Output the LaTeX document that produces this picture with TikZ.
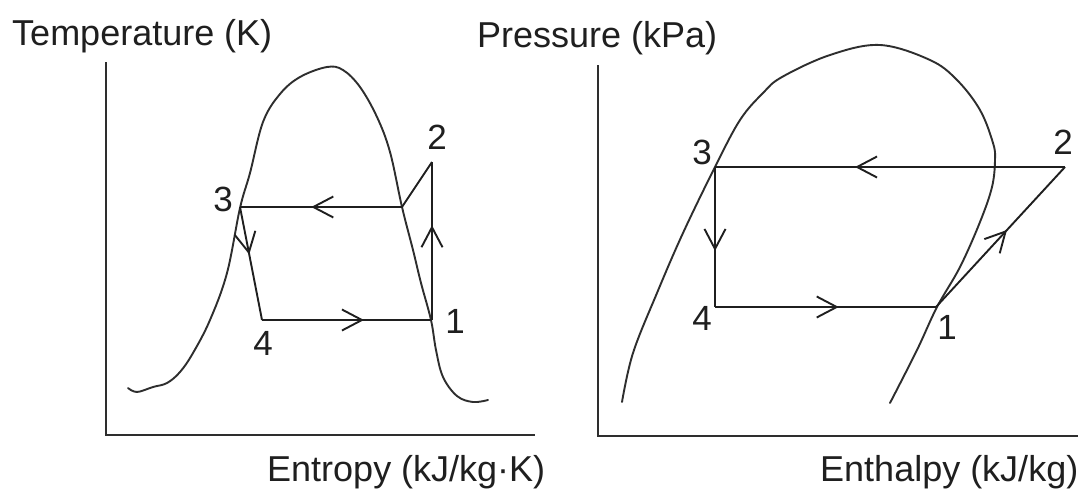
\documentclass[tikz,border=0pt]{standalone}
\usepackage{fontspec}
\setmainfont{Liberation Sans}
\usetikzlibrary{arrows.meta,decorations.markings}
\tikzset{
  cyc/.style={line width=2.4pt, draw=black!88},
  cycdiag/.style={cyc, line width=1.9pt},
  dome/.style={line width=1.9pt, draw=black!82, line join=round, line cap=round},
  axisline/.style={line width=2.7pt, draw=black!82},
  axlabel/.style={font=\fontsize{36}{40}\selectfont, inner sep=0pt, anchor=base west, text=black!88},
  ptlabel/.style={font=\fontsize{35}{39}\selectfont, inner sep=0pt, text=black!88},
  midarrow/.style={postaction={decorate, decoration={markings,
      mark=at position #1 with {\arrow{Straight Barb[length=20pt,width=21pt,line width=1.9pt]}}}}},
}
\begin{document}
\begin{tikzpicture}[x=1pt,y=-1pt]
\fill[white] (0,0) rectangle (1085,488);
\useasboundingbox (0,0) rectangle (1085,488);

% ---------- left diagram (T-s) ----------
\coordinate (LT) at (106,62);
\coordinate (LO) at (106,435);
\coordinate (LR) at (535,435);
\draw[axisline] (LT) -- (LO) -- (LR);
\node[axlabel] (tlab) at (12,45) {Temperature (K)};
\node[axlabel] (slab) at (267,481) {Entropy (kJ/kg·K)};

\draw[dome] plot[smooth, tension=0.6] coordinates {
 (128,388) (137,392) (153,387) (167,383) (180,372) (193,353) (210,320)
 (227,273) (240,208) (250,173) (263,122) (280,94) (300,77) (327,67)
 (343,70) (360,87) (377,117) (390,152) (402,207) (413,250) (421,283)
 (431,320) (436,350) (443,377) (457,396) (473,402) (488,400)};

\coordinate (L1) at (432,320);
\coordinate (L2) at (432,162);
\coordinate (L2s) at (402,207);
\coordinate (L3) at (240,207);
\coordinate (L4) at (262,320);
\draw[cycdiag, midarrow=0.42] (L3) -- (L4);
\draw[cyc, midarrow=0.6] (L4) -- (L1);
\draw[cyc, midarrow=0.6] (L1) -- (L2);
\draw[cycdiag] (L2) -- (L2s);
\draw[cyc, midarrow=0.56] (L2s) -- (L3);

\node[ptlabel] (l3) at (223,199) {3};
\node[ptlabel] (l2) at (437,137) {2};
\node[ptlabel] (l1) at (455,321) {1};
\node[ptlabel] (l4) at (263,343) {4};

% ---------- right diagram (P-h) ----------
\coordinate (RT) at (598,65);
\coordinate (RO) at (598,436);
\coordinate (RR) at (1078,436);
\draw[axisline] (RT) -- (RO) -- (RR);
\node[axlabel] (plab) at (477,47) {Pressure (kPa)};
\node[axlabel] (hlab) at (820,481) {Enthalpy (kJ/kg)};

\draw[dome] plot[smooth, tension=0.6] coordinates {
 (622,402) (633,353) (657,293) (683,233) (715,167) (740,120) (763,93)
 (782,77) (830,55) (880,45) (930,60) (957,80) (980,110) (993,143)
 (995,160) (992,187) (980,222) (960,267) (937,307) (917,350) (890,403)};

\coordinate (R1) at (936,307);
\coordinate (R2) at (1065,167);
\coordinate (R3) at (715,167);
\coordinate (R4) at (715,307);
\draw[cyc, midarrow=0.6] (R2) -- (R3);
\draw[cyc, midarrow=0.6] (R3) -- (R4);
\draw[cyc, midarrow=0.56] (R4) -- (R1);
\draw[cycdiag, midarrow=0.55] (R1) -- (R2);

\node[ptlabel] (r3) at (702,152) {3};
\node[ptlabel] (r2) at (1063,142) {2};
\node[ptlabel] (r4) at (702,318) {4};
\node[ptlabel] (r1) at (947,327) {1};
\end{tikzpicture}
\end{document}
